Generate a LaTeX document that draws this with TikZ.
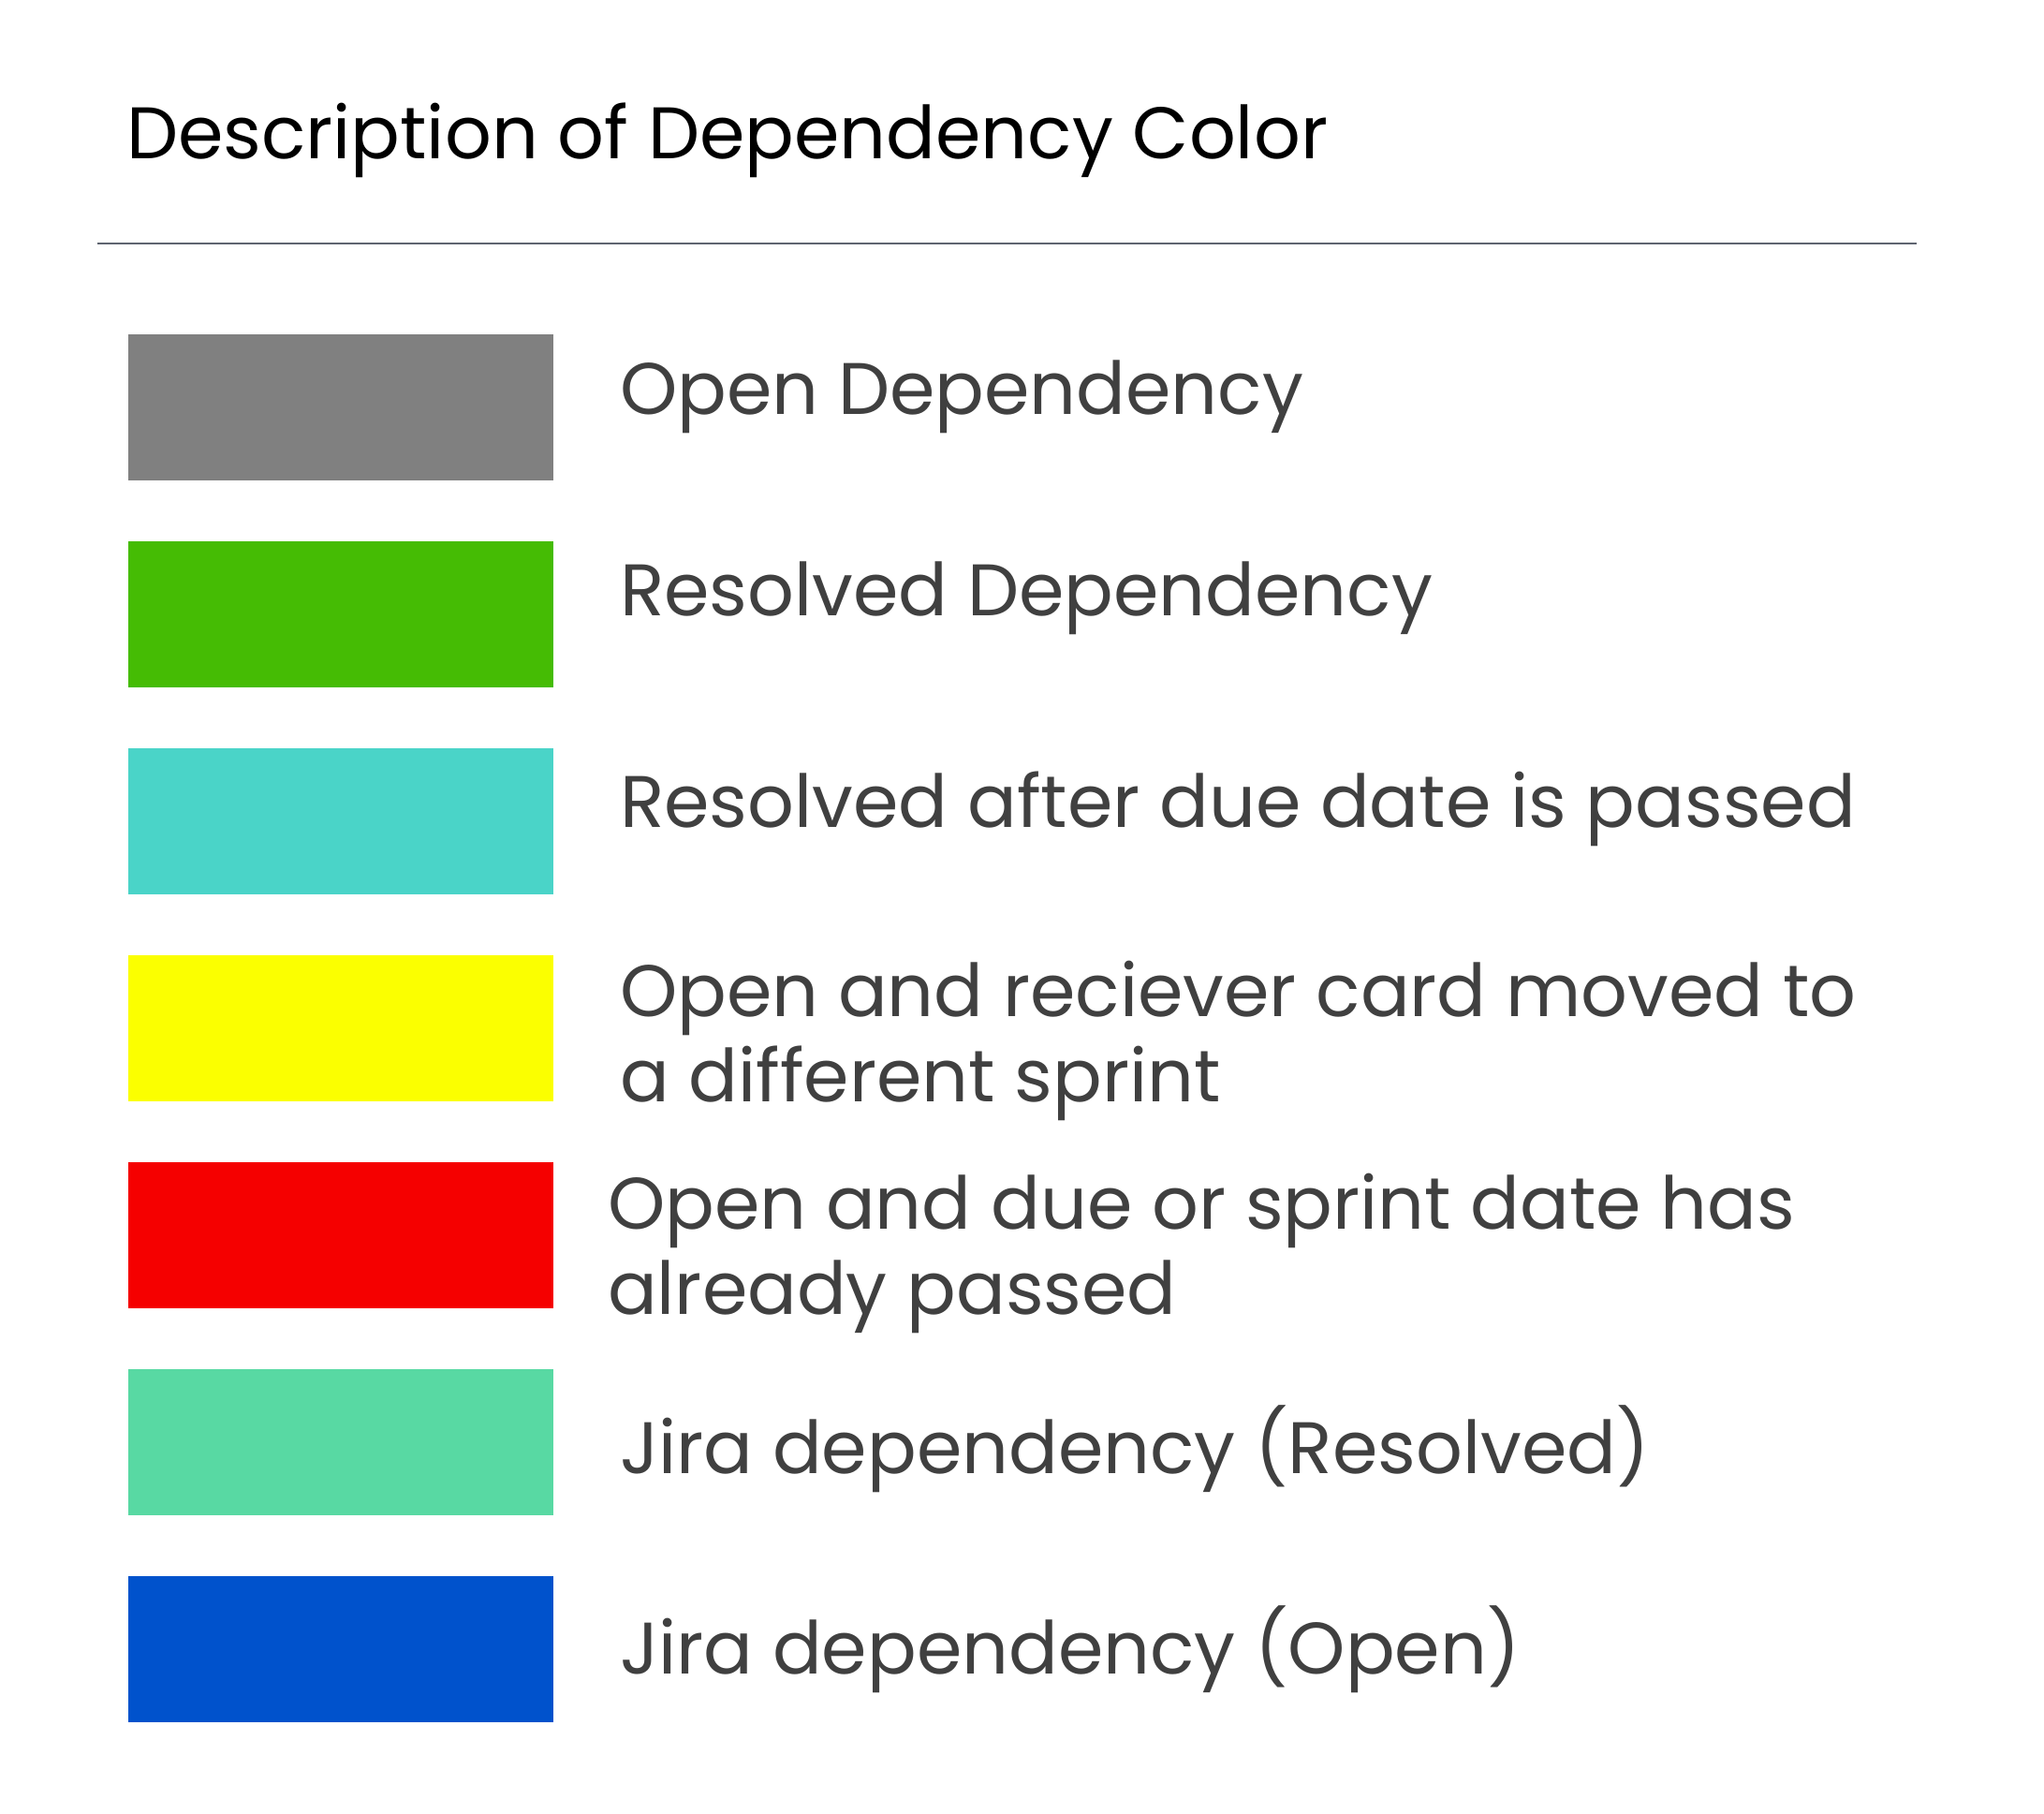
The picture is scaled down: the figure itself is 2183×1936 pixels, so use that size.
\documentclass[tikz,border=0pt]{standalone}
\usepackage{fontspec}
\setmainfont{Poppins}
\definecolor{cgray}{HTML}{808080}
\definecolor{cgreen}{HTML}{45BC04}
\definecolor{ccyan}{HTML}{4AD4C8}
\definecolor{cyellow}{HTML}{FBFF00}
\definecolor{cred}{HTML}{F50000}
\definecolor{cmint}{HTML}{58D9A3}
\definecolor{cblue}{HTML}{0052CC}
\definecolor{ctext}{HTML}{404040}
\definecolor{crule}{HTML}{5F6470}
\begin{document}
\begin{tikzpicture}[x=1pt,y=-1pt,
  label/.style={anchor=base west,inner sep=0pt,outer sep=0pt,text=ctext,
    font=\fontsize{78}{91}\selectfont,align=left},
  titlestyle/.style={anchor=base west,inner sep=0pt,outer sep=0pt,text=black,
    font=\fontsize{78}{91}\selectfont}]
\useasboundingbox[fill=white] (0,0) rectangle (2183,1936);
\node[titlestyle] (title) at (135,169) {Description of Dependency Color};
\coordinate (rl) at (104,260);
\coordinate (rr) at (2047,260);
\draw[crule,line width=2pt] (rl) -- (rr);
\fill[cgray]   (137,357)  rectangle (591,513);
\fill[cgreen]  (137,578)  rectangle (591,734);
\fill[ccyan]   (137,799)  rectangle (591,955);
\fill[cyellow] (137,1020) rectangle (591,1176);
\fill[cred]    (137,1241) rectangle (591,1397);
\fill[cmint]   (137,1462) rectangle (591,1618);
\fill[cblue]   (137,1683) rectangle (591,1839);
\node[label] (l1) at (662,442) {Open Dependency};
\node[label] (l2) at (662,657) {Resolved Dependency};
\node[label] (l3) at (662,883) {Resolved after due date is passed};
\node[label] (l4) at (662,1176) {Open and reciever card moved to\\a different sprint};
\node[label] (l5) at (649,1403) {Open and due or sprint date has\\already passed};
\node[label] (l6) at (662,1573) {Jira dependency (Resolved)};
\node[label] (l7) at (662,1787) {Jira dependency (Open)};
\end{tikzpicture}
\end{document}
